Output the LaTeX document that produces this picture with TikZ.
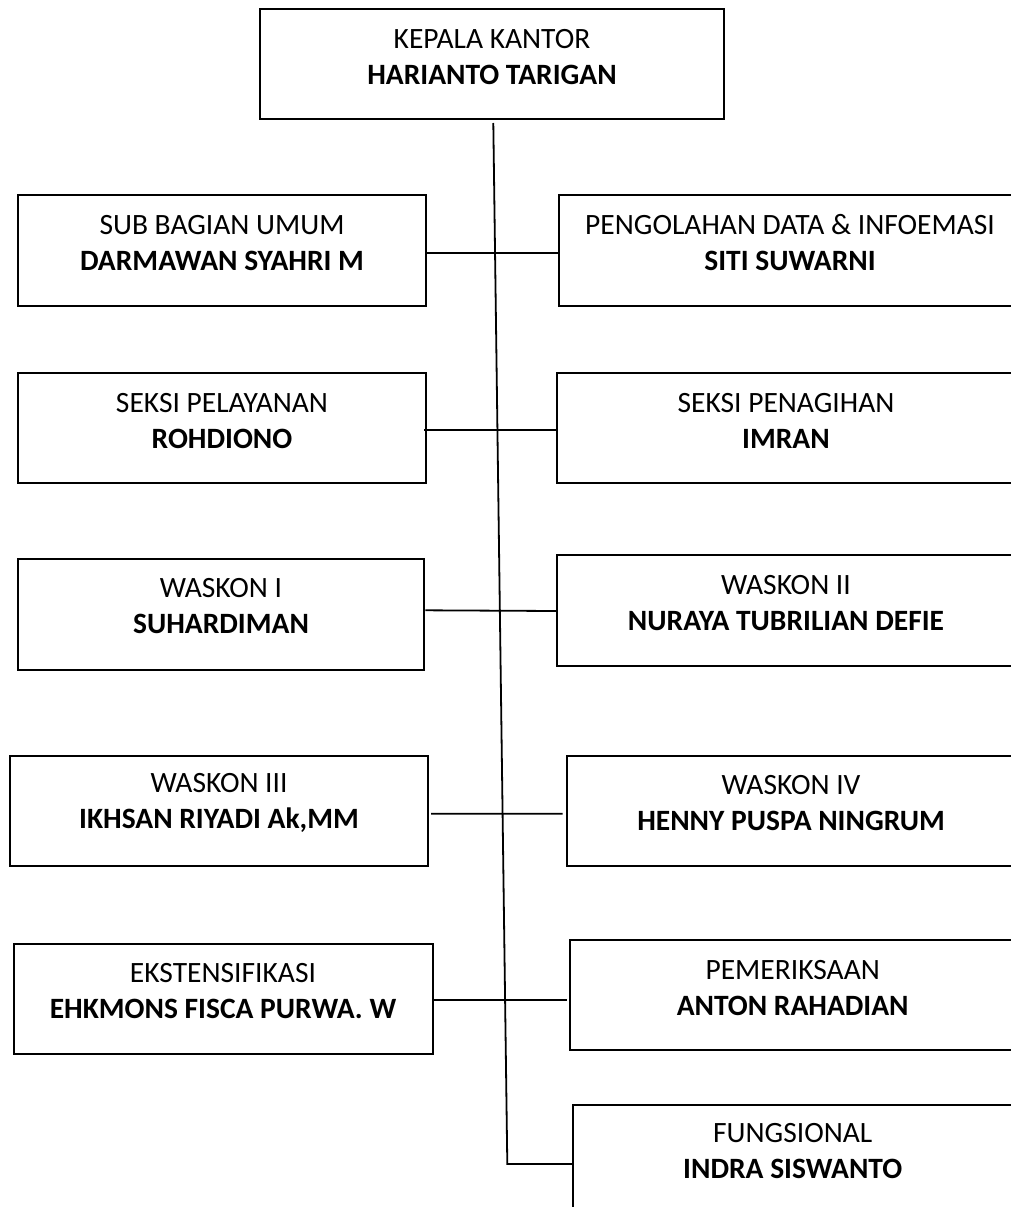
\documentclass[tikz,border=0pt]{standalone}
\usepackage{fontspec}
\setmainfont{Carlito}
\begin{document}
\begin{tikzpicture}[x=1pt,y=-1pt,
  orgbox/.style={draw, line width=2pt, inner sep=0pt, fill=none},
  txt/.style={align=center, font=\fontsize{29.5}{36}\selectfont, inner sep=0pt},
  link/.style={line width=1.8pt}]
\useasboundingbox (0,0) rectangle (1011,1207);
\clip (0,0) rectangle (1011,1207);
% top
\node[orgbox, minimum width=464pt, minimum height=110pt] (top) at (492,64) {};
\node[txt] (ttop) at (492,57) {KEPALA KANTOR\\\textbf{HARIANTO TARIGAN}};
% left column
\node[orgbox, minimum width=408.6pt, minimum height=110.4pt] (L1) at (222,250.5) {};
\node[txt] (tL1) at (222,243) {SUB BAGIAN UMUM\\\textbf{DARMAWAN SYAHRI M}};
\node[orgbox, minimum width=408.6pt, minimum height=110pt] (L2) at (222,428.3) {};
\node[txt] (tL2) at (222,421) {SEKSI PELAYANAN\\\textbf{ROHDIONO}};
\node[orgbox, minimum width=406.6pt, minimum height=110.7pt] (L3) at (221,614.7) {};
\node[txt] (tL3) at (221,606) {WASKON I\\\textbf{SUHARDIMAN}};
\node[orgbox, minimum width=418pt, minimum height=110pt] (L4) at (219,811) {};
\node[txt] (tL4) at (219,803) {WASKON III\\\textbf{IKHSAN RIYADI Ak,MM}};
\node[orgbox, minimum width=419pt, minimum height=110.3pt] (L5) at (223.2,998.8) {};
\node[txt] (tL5) at (223,991) {EKSTENSIFIKASI\\\textbf{EHKMONS FISCA PURWA. W}};
% right column (cut off at the right edge)
\node[orgbox, anchor=west, minimum width=480pt, minimum height=110.4pt] (R1) at (557.7,250.5) {};
\node[txt] (tR1) at (790,243) {PENGOLAHAN DATA \& INFOEMASI\\\textbf{SITI SUWARNI}};
\node[orgbox, anchor=west, minimum width=480pt, minimum height=110pt] (R2) at (556,428.3) {};
\node[txt] (tR2) at (786,421) {SEKSI PENAGIHAN\\\textbf{IMRAN}};
\node[orgbox, anchor=west, minimum width=480pt, minimum height=110.7pt] (R3) at (556,610.3) {};
\node[txt] (tR3) at (786,603) {WASKON II\\\textbf{NURAYA TUBRILIAN DEFIE}};
\node[orgbox, anchor=west, minimum width=480pt, minimum height=109.7pt] (R4) at (566,810.9) {};
\node[txt] (tR4) at (791,803) {WASKON IV\\\textbf{HENNY PUSPA NINGRUM}};
\node[orgbox, anchor=west, minimum width=480pt, minimum height=110pt] (R5) at (568.7,995) {};
\node[txt] (tR5) at (792.7,988) {PEMERIKSAAN\\\textbf{ANTON RAHADIAN}};
\node[orgbox, anchor=north west, minimum width=480pt, minimum height=200pt] (R6) at (572,1104) {};
\node[txt] (tR6) at (792.7,1151) {FUNGSIONAL\\\textbf{INDRA SISWANTO}};
% connectors
\coordinate (vend) at (507.3,1164);
\draw[link] ([xshift=1.3pt,yshift=-3pt]top.south) -- (vend) -- (vend -| R6.west);
\draw[link] ([yshift=-2.8pt]L1.east) -- ([yshift=-2.8pt]R1.west);
\draw[link] ([xshift=-3pt,yshift=-1.7pt]L2.east) -- ([yshift=-1.7pt]R2.west);
\draw[link] (L3.east |- R3.west) -- ([yshift=-0.7pt]R3.west);
\draw[link] ([xshift=2pt,yshift=-2.8pt]L4.east) -- ([xshift=-3.3pt,yshift=-2.8pt]R4.west);
\draw[link] ([yshift=-0.9pt]L5.east) -- ([xshift=-1.7pt,yshift=-4.7pt]R5.west);
\end{tikzpicture}
\end{document}
